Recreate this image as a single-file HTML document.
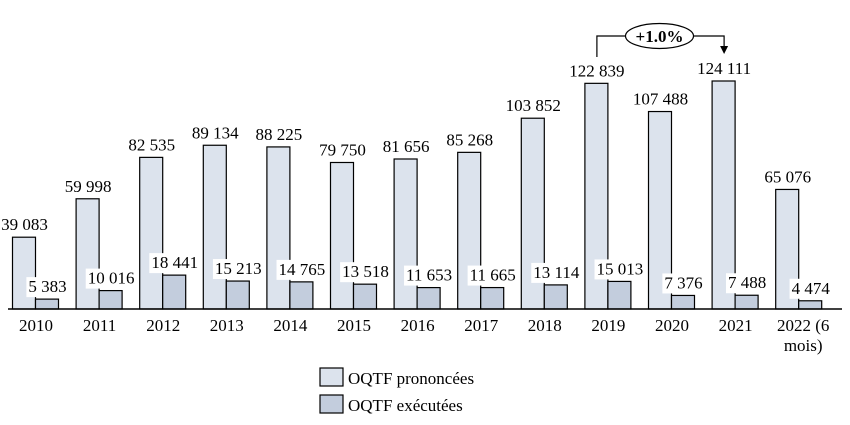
<!DOCTYPE html>
<html><head><meta charset="utf-8"><style>
body{margin:0;background:#fff}
svg{display:block;font-family:"Liberation Serif",serif}
</style></head><body>
<svg id="c" width="850" height="425"></svg>
<script>
const categories=["2010","2011","2012","2013","2014","2015","2016","2017","2018","2019","2020","2021","2022 (6|mois)"];
const prononcees=[39083,59998,82535,89134,88225,79750,81656,85268,103852,122839,107488,124111,65076];
const executees=[5383,10016,18441,15213,14765,13518,11653,11665,13114,15013,7376,7488,4474];
const NS="http://www.w3.org/2000/svg";
const svg=document.getElementById('c');
const base=309, k=228/124111, x0=36, step=63.6, bw=23, fs=17;
const xc=i=>x0+i*step;
const yv=v=>base-v*k;
const fmt=v=>String(v).replace(/\B(?=(\d{3})+(?!\d))/g,' ');
function el(t,a,txt){const e=document.createElementNS(NS,t);for(const n in a)e.setAttribute(n,a[n]);if(txt!=null)e.textContent=txt;svg.appendChild(e);return e;}
categories.forEach((c,i)=>{
  const cx=xc(i);
  let r=el('rect',{x:cx-bw-0.5,y:yv(prononcees[i]),width:bw,height:prononcees[i]*k,fill:'#dce3ed',stroke:'#000','stroke-width':1.2});
  
  
  let r2=el('rect',{x:cx-0.5,y:yv(executees[i]),width:bw,height:executees[i]*k,fill:'#c3cddd',stroke:'#000','stroke-width':1.2});
  
  
  let t=el('text',{x:cx-bw/2,y:yv(prononcees[i])-7,'text-anchor':'middle','font-size':fs},fmt(prononcees[i]));
  
  
  const lx=cx+bw/2, ly=yv(executees[i])-7;
  let bg=el('rect',{x:lx-28,y:ly-15,width:56,height:20,fill:'#fff'});
  
  
  let t2=el('text',{x:lx,y:ly,'text-anchor':'middle','font-size':fs},fmt(executees[i]));
  
  
  const bb=t2.getBBox();
  bg.setAttribute('x',bb.x-2);bg.setAttribute('width',bb.width+4);
  const parts=c.split('|');
  parts.forEach((p,j)=>{
    let tl=el('text',{x:cx+(parts.length>1?4:0),y:331+j*20,'text-anchor':'middle','font-size':fs},p);
    
    
  });
});
let ax=el('line',{x1:8,x2:842,y1:base,y2:base,stroke:'#000','stroke-width':1.5});


const a1=xc(9)-bw/2, a2=xc(11)-bw/2;
let pl=el('polyline',{points:`${a1},57 ${a1},36 626,36`,fill:'none',stroke:'#000','stroke-width':1.2});


let pr=el('polyline',{points:`693,36 ${a2},36 ${a2},47`,fill:'none',stroke:'#000','stroke-width':1.2});


let ar=el('polygon',{points:`${a2-4},46 ${a2+4},46 ${a2},54`,fill:'#000'});


let ell=el('ellipse',{cx:659.5,cy:36,rx:34,ry:12.5,fill:'#fff',stroke:'#000','stroke-width':1.2});


let at=el('text',{x:659.5,y:42,'text-anchor':'middle','font-size':fs,'font-weight':'bold'},'+1.0%');


let l1=el('rect',{x:320,y:368,width:23,height:18,fill:'#dce3ed',stroke:'#000','stroke-width':1.2});


let lt1=el('text',{x:348,y:384,'font-size':fs},'OQTF prononcées');


let l2=el('rect',{x:320,y:395,width:23,height:18,fill:'#c3cddd',stroke:'#000','stroke-width':1.2});


let lt2=el('text',{x:348,y:411,'font-size':fs},'OQTF exécutées');


</script>
</body></html>
